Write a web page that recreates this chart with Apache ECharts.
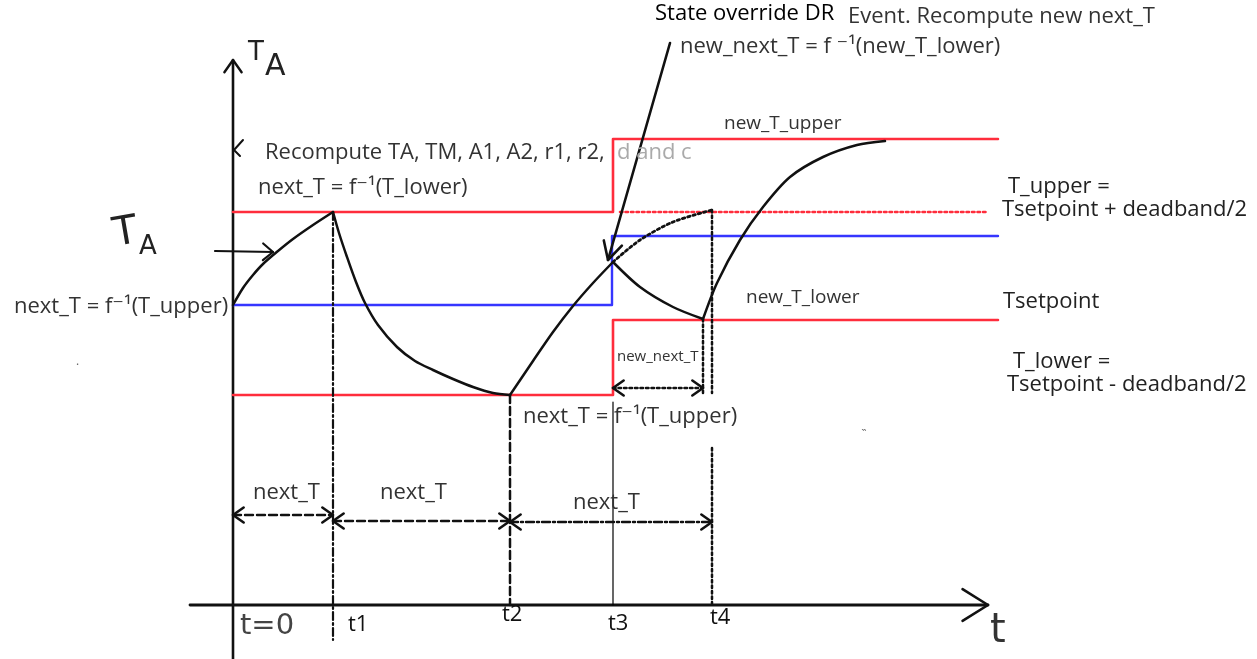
<!DOCTYPE html>
<html>
<head>
<meta charset="utf-8">
<script src="https://cdn.jsdelivr.net/npm/echarts@6/dist/echarts.min.js"></script>
<style>
html,body{margin:0;padding:0;background:#fff;}
#chart{width:1257px;height:659px;}
</style>
</head>
<body>
<div id="chart"></div>
<script>
// ---- time marks (x) ----
const tickLabels = ['t1', 't2', 't3', 't4'];
const tickTimes = [1.00, 2.77, 3.80, 4.79];
const tEnd = 7.65;

// ---- temperature levels (y) before / after the DR event ----
const levelNames = ['T_upper', 'Tsetpoint', 'T_lower'];
const levelsBefore = [3.93, 3.00, 2.10];
const levelsAfter = [4.66, 3.69, 2.85];

// ---- TA trajectory pieces ----
const heatCurve1 = [[0, 3.00], [0.1, 3.17], [0.2, 3.30], [0.3, 3.41], [0.45, 3.54], [0.6, 3.66], [0.8, 3.80], [1.0, 3.93]];
const coolCurve = [[1.00, 3.93], [1.06, 3.72], [1.14, 3.48], [1.23, 3.23], [1.32, 3.02], [1.45, 2.80], [1.64, 2.58], [1.82, 2.44], [2.00, 2.35], [2.20, 2.26], [2.40, 2.18], [2.60, 2.12], [2.77, 2.10]];
const heatCurve2 = [[2.77, 2.10], [3.00, 2.44], [3.20, 2.73], [3.40, 2.99], [3.60, 3.22], [3.80, 3.43]];
const projectedCurve = [[3.80, 3.43], [4.07, 3.65], [4.40, 3.83], [4.79, 3.95]];
const drCoolCurve = [[3.80, 3.43], [4.07, 3.18], [4.40, 2.98], [4.70, 2.86]];
const drHeatCurve = [[4.70, 2.86], [4.84, 3.22], [5.07, 3.65], [5.30, 3.98], [5.57, 4.28], [5.90, 4.48], [6.24, 4.60], [6.52, 4.64]];
const tMin = 4.70;

// ---- interval arrows (y level of each row) ----
const intervalRows = [0.90, 0.84, 0.83];
const newIntervalRow = 2.17;

// ---- hand-drawn axes extents ----
const yAxisSpan = [-0.6, 5.45];
const xAxisSpan = [-0.43, 7.55];

// ---- annotation arrow (DR event) and TA pointer ----
const drArrow = [[4.37, 5.62], [3.75, 3.45]];
const taArrow = [[-0.18, 3.54], [0.40, 3.53]];

const RED = '#ff2d3c', BLUE = '#3636ff', BLACK = '#111';
const DASH = [8, 4], DASHDOT = [8, 3, 2, 3], DOT = [2.5, 3];

const series = [];
function line(data, color, width, type, smooth, z) {
  series.push({
    type: 'line', data: data, showSymbol: false, symbol: 'none', smooth: smooth || false,
    silent: true, z: z || 2, animation: false,
    lineStyle: { color: color, width: width, type: type || 'solid', cap: 'round', join: 'round' }
  });
}
function head(tip, from, len, ang) {
  const dx = from[0] - tip[0], dy = from[1] - tip[1];
  const d = Math.hypot(dx, dy); const ux = dx / d, uy = dy / d;
  const a = ang * Math.PI / 180;
  const r = (c, s) => [tip[0] + len * (ux * c - uy * s), tip[1] + len * (ux * s + uy * c)];
  return [r(Math.cos(a), Math.sin(a)), tip, r(Math.cos(a), -Math.sin(a))];
}
function dblArrow(a, b, type, width) {
  line([a, b], BLACK, width, type);
  line(head(a, b, 0.13, 35), BLACK, 2.6);
  line(head(b, a, 0.13, 35), BLACK, 2.6);
}

const t3 = tickTimes[2];
// hand-drawn axes
line([[0, yAxisSpan[0]], [0, yAxisSpan[1]]], BLACK, 2.6);
line(head([0, yAxisSpan[1]], [0, 0], 0.15, 35), BLACK, 2.4);
line([[0.10, 4.65], [0.01, 4.55], [0.07, 4.49]], BLACK, 2);
line([[xAxisSpan[0], 0], [xAxisSpan[1], 0]], BLACK, 2.8);
line(head([xAxisSpan[1], 0], [0, 0], 0.3, 32), BLACK, 2.6);

// threshold levels (step at t3)
line([[0, levelsBefore[0]], [t3, levelsBefore[0]], [t3, levelsAfter[0]], [tEnd, levelsAfter[0]]], RED, 2.6);
line([[t3 + 0.07, levelsBefore[0]], [tEnd - 0.1, levelsBefore[0]]], RED, 2.6, DOT);
line([[0, levelsBefore[1]], [t3 - 0.01, levelsBefore[1]], [t3 - 0.01, levelsAfter[1]], [tEnd, levelsAfter[1]]], BLUE, 2.4);
line([[0, levelsBefore[2]], [t3, levelsBefore[2]], [t3, levelsAfter[2]], [tEnd, levelsAfter[2]]], RED, 2.6);

// time verticals
line([[tickTimes[0], levelsBefore[0]], [tickTimes[0], -0.35]], BLACK, 2.2, DASHDOT);
line([[tickTimes[1], levelsBefore[2]], [tickTimes[1], 0]], BLACK, 2.5, DASH);
line([[t3, 2.03], [t3, 0]], '#000', 1.2);
line([[tickTimes[3], 3.95], [tickTimes[3], 2.12]], BLACK, 2.5, DOT);
line([[tickTimes[3], 1.57], [tickTimes[3], 0]], BLACK, 2.5, DOT);
line([[tMin, 2.86], [tMin, 2.12]], BLACK, 2.5, DOT);

// TA trajectory
line(heatCurve1, BLACK, 2.5, 'solid', 0.3, 5);
line(coolCurve, BLACK, 2.5, 'solid', 0.3, 5);
line(heatCurve2, BLACK, 2.5, 'solid', 0.3, 5);
line(projectedCurve, BLACK, 2.8, DOT, 0.3, 5);
line(drCoolCurve, BLACK, 2.5, 'solid', 0.3, 5);
line(drHeatCurve, BLACK, 2.5, 'solid', 0.3, 5);

// interval arrows
dblArrow([0, intervalRows[0]], [tickTimes[0], intervalRows[0]], DASH, 2.4);
dblArrow([tickTimes[0], intervalRows[1]], [tickTimes[1], intervalRows[1]], DASH, 2.4);
dblArrow([tickTimes[1], intervalRows[2]], [tickTimes[3], intervalRows[2]], DASHDOT, 2.4);
dblArrow([t3, newIntervalRow], [tMin, newIntervalRow], DOT, 2.6);

// DR annotation arrow and TA pointer
line(drArrow, BLACK, 2.6, 'solid', false, 6);
line(head(drArrow[1], drArrow[0], 0.2, 28), BLACK, 2.6, 'solid', false, 6);
line(taArrow, BLACK, 2.2, 'solid', false, 6);
line(head(taArrow[1], taArrow[0], 0.13, 40), BLACK, 2.2, 'solid', false, 6);

const F = '"Open Sans", "DejaVu Sans", sans-serif';
function txt(text, left, top, size, color) {
  return {
    type: 'text', left: left, top: top, z: 10, silent: true,
    style: { text: text, font: size + 'px ' + F, fill: color || '#222' }
  };
}
const HF = '"DejaVu Sans", sans-serif';
function hand(text, left, top, size, color, rot) {
  return {
    type: 'text', left: left, top: top, z: 10, silent: true, rotation: rot || 0,
    style: { text: text, font: size + 'px ' + HF, fill: color || '#222' }
  };
}

const graphic = [
  txt('State override DR', 655, 3, 22, '#000'),
  txt('Event. Recompute new next_T', 848, 6, 22, '#333'),
  txt('new_next_T = f \u207B\u00B9(new_T_lower)', 680, 36, 22, '#333'),
  txt('Recompute TA, TM, A1, A2, r1, r2,', 265, 142, 22, '#333'),
  txt('d and c', 617, 142, 22, '#aaa'),
  txt('next_T = f\u207B\u00B9(T_lower)', 258, 177, 22, '#333'),
  txt('next_T = f\u207B\u00B9(T_upper)', 14, 296, 22, '#333'),
  txt('new_T_upper', 724, 114, 19, '#333'),
  txt('new_T_lower', 746, 288, 19, '#333'),
  txt(levelNames[0] + ' =', 1008, 176, 22, '#222'),
  txt('Tsetpoint + deadband/2', 1002, 199, 22, '#222'),
  txt(levelNames[1], 1003, 291, 22, '#222'),
  txt(levelNames[2] + ' =', 1013, 351, 22, '#222'),
  txt('Tsetpoint - deadband/2', 1007, 374, 22, '#222'),
  txt('new_next_T', 617, 349, 15, '#333'),
  txt('next_T = f\u207B\u00B9(T_upper)', 523, 406, 22, '#333'),
  txt('next_T', 253, 482, 22, '#333'),
  txt('next_T', 380, 482, 22, '#333'),
  txt('next_T', 573, 492, 22, '#333'),
  txt(tickLabels[0], 348, 614, 22, '#111'),
  txt(tickLabels[1], 502, 604, 22, '#111'),
  txt(tickLabels[2], 608, 613, 22, '#111'),
  txt(tickLabels[3], 710, 607, 22, '#111'),
  txt('\u02F5', 862, 424, 12, '#666'),
  txt('.', 76, 356, 12, '#666'),
  hand('T', 248, 40, 26),
  hand('A', 265, 52, 30),
  hand('T', 110, 212, 40, '#222', 0.17),
  hand('A', 139, 234, 26),
  hand('t=0', 240, 612, 29, '#444'),
  hand('t', 990, 612, 40, '#333')
];

const chart = echarts.init(document.getElementById('chart'), null, { renderer: 'canvas' });
chart.setOption({
  animation: false,
  backgroundColor: '#fff',
  grid: { left: 0, right: 0, top: 0, bottom: 0 },
  xAxis: { type: 'value', min: -2.33, max: 10.24, show: false },
  yAxis: { type: 'value', min: -0.54, max: 6.05, show: false },
  series: series,
  graphic: graphic
});
</script>
</body>
</html>
